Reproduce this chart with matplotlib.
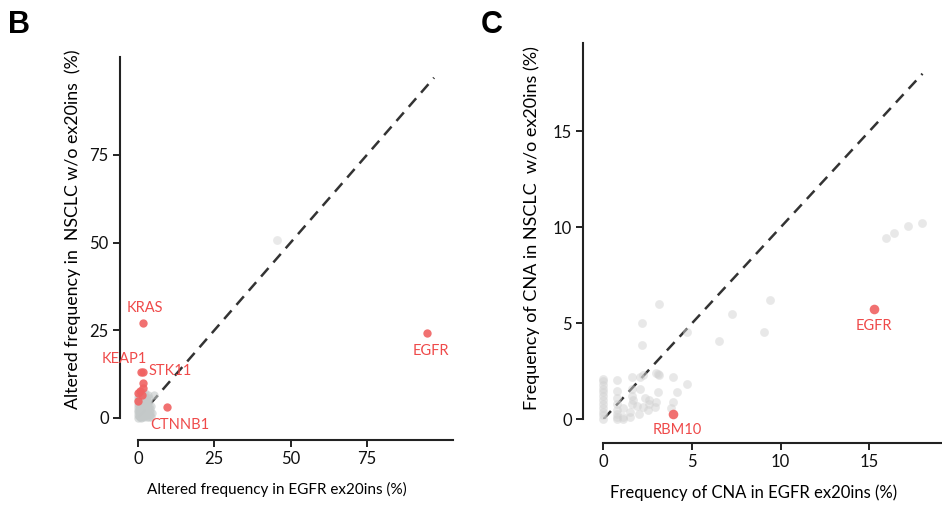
import matplotlib
matplotlib.use("Agg")
import matplotlib.pyplot as plt

FONT = ["Lato", "DejaVu Sans"]
plt.rcParams["font.family"] = FONT

# ---------------- Panel B data ----------------
b_gray_x = [0.0, 0.0, 0.0, 0.0, 0.0, 0.0, 0.0, 0.0, 0.5, 0.5, 0.5, 0.5, 0.5, 0.5,
            1.0, 1.0, 1.0, 1.0, 1.0, 1.5, 1.5, 1.5, 1.5, 2.0, 2.0, 2.0, 2.0, 2.5,
            2.5, 2.5, 3.0, 3.0, 3.0, 3.5, 3.5, 4.0, 4.0, 2.2, 3.2, 4.5, 5.2, 1.2,
            0.2, 0.7, 1.2, 1.7, 2.2, 2.7, 3.2, 3.7, 4.2, 0.3, 0.8, 1.3, 1.8, 2.3,
            2.8, 3.3, 3.8, 0.4, 0.9, 1.4, 1.9, 2.4, 2.9, 0.2, 1.1, 1.8, 2.6, 3.4,
            4.3, 0.6, 1.6, 2.6, 3.6]
b_gray_y = [0.0, 0.8, 1.6, 2.4, 3.2, 4.0, 5.0, 6.0, 0.3, 1.2, 2.1, 3.0, 4.2, 5.5,
            0.0, 1.0, 2.0, 3.5, 5.0, 0.5, 1.8, 3.0, 4.5, 0.2, 1.5, 3.0, 6.0, 0.8,
            2.5, 4.5, 0.3, 2.0, 5.0, 1.2, 3.5, 0.8, 2.5, 7.0, 6.5, 1.5, 6.6, 7.5,
            0.5, 0.6, 0.4, 1.0, 0.9, 1.3, 1.0, 0.4, 0.3, 2.0, 2.6, 1.5, 2.4, 2.2,
            3.6, 2.8, 1.8, 3.8, 4.0, 3.9, 4.2, 3.7, 4.3, 5.8, 6.3, 5.6, 5.3, 4.6,
            3.4, 7.0, 6.8, 6.0, 5.8]
b_faint_x = [45.4]
b_faint_y = [50.7]
b_red_x = [1.5, 1.0, 1.7, 9.6, 94.7, 1.7, 1.5, 0.0, 0.6, 1.2, 0.0]
b_red_y = [27.0, 13.2, 13.0, 3.2, 24.3, 10.1, 8.5, 7.2, 7.6, 6.6, 4.8]
b_labels = ["KRAS", "KEAP1", "STK11", "CTNNB1", "EGFR"]
b_diag = [0, 97]
b_ticks = [0, 25, 50, 75]

# ---------------- Panel C data ----------------
c_gray_x = [15.95, 16.42, 17.2, 17.98, 9.41, 9.07, 7.28, 6.51, 3.16, 2.18, 2.18,
            4.7, 4.7, 4.14, 3.92, 3.1, 3.16, 3.92, 3.8,
            0.0, 0.0, 0.0, 0.0, 0.0, 0.0, 0.0, 0.0, 0.0, 0.0, 0.0, 0.0,
            0.75, 0.75, 0.75, 0.75, 0.75, 0.75, 0.75, 0.75,
            1.1, 1.1, 1.1, 1.6, 1.6, 1.5, 1.5, 1.6, 1.7, 1.6,
            2.07, 2.07, 2.0, 1.9, 2.25, 2.35, 2.25, 2.5, 2.6, 2.6,
            2.9, 3.0, 3.1, 3.0]
c_gray_y = [9.46, 9.69, 10.07, 10.24, 6.21, 4.56, 5.48, 4.09, 6.0, 5.0, 3.87,
            4.53, 1.82, 1.44, 2.22, 2.34, 2.3, 0.92, 0.6,
            0.0, 0.2, 0.4, 0.6, 0.8, 1.0, 1.2, 1.4, 1.6, 1.8, 2.0, 2.1,
            0.0, 0.1, 0.3, 0.5, 0.8, 1.1, 1.5, 2.05,
            0.0, 0.14, 0.6, 2.2, 1.6, 0.14, 0.4, 0.8, 1.0, 1.2,
            2.2, 1.6, 0.3, 0.7, 0.66, 1.1, 2.3, 0.5, 0.8, 1.0,
            0.66, 2.4, 1.44, 0.9]
c_red_x = [15.24, 3.92]
c_red_y = [5.74, 0.26]
c_labels = ["EGFR", "RBM10"]
c_diag = [0, 18]
c_ticks = [0, 5, 10, 15]

RED_PT = "#f06262"
RED_TXT = "#ef4a4a"

fig = plt.figure(figsize=(9.42, 5.05), dpi=100)


def style_axis(ax, xoff, yoff, xlim, ylim, ticks):
    ax.set_xlim(*xlim)
    ax.set_ylim(*ylim)
    for s in ["top", "right"]:
        ax.spines[s].set_visible(False)
    ax.spines["left"].set_position(("outward", xoff))
    ax.spines["bottom"].set_position(("outward", yoff))
    for s in ["left", "bottom"]:
        ax.spines[s].set_linewidth(1.5)
        ax.spines[s].set_color("#222222")
    ax.set_xticks(ticks)
    ax.set_yticks(ticks)
    ax.tick_params(axis="both", length=5, width=1.4, color="#222222",
                   labelsize=12, labelcolor="#111111", pad=3)
    ax.patch.set_alpha(0)


# ---------------- Panel B ----------------
axB = fig.add_axes([138 / 942, 1 - 418 / 505, 315 / 942, 361 / 505])
style_axis(axB, 13, 16, (0, 103.2), (0, 102.9), b_ticks)
axB.plot(b_diag, b_diag, ls=(0, (4.5, 3)), color="#333333", lw=1.8, zorder=1)
axB.scatter(b_faint_x, b_faint_y, s=40, color="#e9e9e9", lw=0, zorder=2, clip_on=False)
axB.scatter(b_gray_x, b_gray_y, s=36, color="#c4c9c9", alpha=0.6, lw=0, zorder=2, clip_on=False)
axB.scatter(b_red_x, b_red_y, s=36, color=RED_PT, alpha=0.9, lw=0, zorder=3, clip_on=False)
b_offsets = [(1.5, 11, "center"), (-12, 9, "center"), (4, 1, "left"), (9, -13, "center"), (3, -13, "center")]
for i, lab in enumerate(b_labels):
    dx, dy, ha = b_offsets[i]
    axB.annotate(lab, (b_red_x[i], b_red_y[i]), xytext=(dx, dy), textcoords="offset points",
                 ha=ha, va="center", color=RED_TXT, fontsize=10.5)
axB.set_xlabel("Altered frequency in EGFR ex20ins (%)", fontsize=11)
axB.xaxis.set_label_coords(0.441, -(489 - 418) / 361, transform=axB.transAxes)
axB.xaxis.label.set_va("center")
axB.set_ylabel("Altered frequency in  NSCLC w/o ex20ins  (%)", fontsize=12.8)
axB.yaxis.set_label_coords(-(138 - 73) / 315, 0.5235, transform=axB.transAxes)
axB.yaxis.label.set_va("center")

# ---------------- Panel C ----------------
axC = fig.add_axes([603.3 / 942, 1 - 419.3 / 505, 338.7 / 942, 376.3 / 505])
style_axis(axC, 14.4, 16.8, (0, 19.1), (0, 19.6), c_ticks)
axC.plot(c_diag, c_diag, ls=(0, (4.5, 3)), color="#333333", lw=1.8, zorder=1)
axC.scatter(c_gray_x, c_gray_y, s=40, color="#d2d2d2", alpha=0.5, lw=0, zorder=2, clip_on=False)
axC.scatter(c_red_x, c_red_y, s=48, color=RED_PT, alpha=0.9, lw=0, zorder=3, clip_on=False)
c_offsets = [(0, -12), (3.5, -11.5)]
for i, lab in enumerate(c_labels):
    dx, dy = c_offsets[i]
    axC.annotate(lab, (c_red_x[i], c_red_y[i]), xytext=(dx, dy), textcoords="offset points",
                 ha="center", va="center", color=RED_TXT, fontsize=10.5)
axC.set_xlabel("Frequency of CNA in EGFR ex20ins (%)", fontsize=12)
axC.xaxis.set_label_coords(0.445, -(493 - 419.3) / 376.3, transform=axC.transAxes)
axC.xaxis.label.set_va("center")
axC.set_ylabel("Frequency of CNA in NSCLC  w/o ex20ins (%)", fontsize=13)
axC.yaxis.set_label_coords(-(603.3 - 531.7) / 338.7, (419.3 - 228) / 376.3, transform=axC.transAxes)
axC.yaxis.label.set_va("center")

# panel letters
fig.text(8 / 942, 1 - 33 / 505, "B", fontsize=22, fontweight="bold",
         family=["Liberation Sans", "DejaVu Sans"], ha="left", va="baseline")
fig.text(481 / 942, 1 - 33 / 505, "C", fontsize=22, fontweight="bold",
         family=["Liberation Sans", "DejaVu Sans"], ha="left", va="baseline")

fig.savefig("out.png", dpi=100)
